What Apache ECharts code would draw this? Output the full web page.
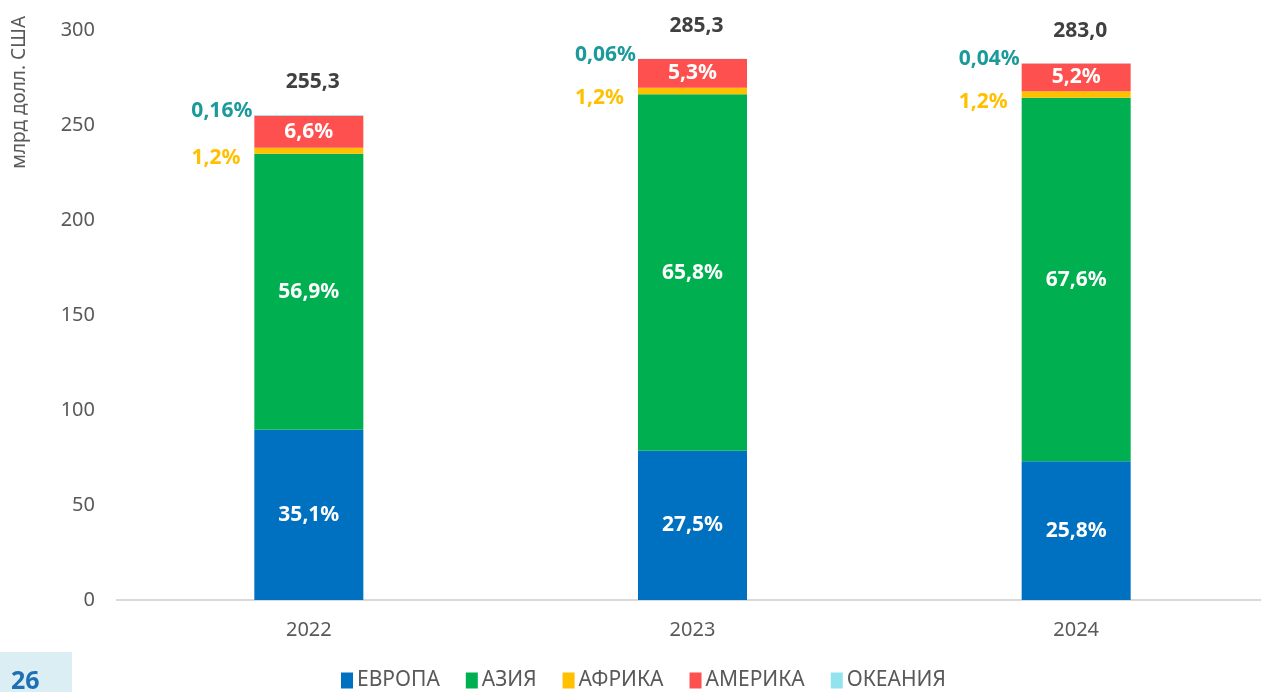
<!DOCTYPE html>
<html>
<head>
<meta charset="utf-8">
<script src="https://cdn.jsdelivr.net/npm/echarts@6/dist/echarts.min.js"></script>
<style>
  html, body { margin: 0; padding: 0; background: #fff; overflow: hidden; }
  #chart { width: 1268px; height: 692px; }
</style>
</head>
<body>
<div id="chart"></div>
<script>
// годы
var years = ['2022', '2023', '2024'];
// значения, млрд долл. США
var europe  = [89.6, 78.5, 73.0];
var asia    = [145.3, 187.7, 191.3];
var africa  = [3.1, 3.4, 3.4];
var america = [16.9, 15.1, 14.7];
var oceania = [0.4, 0.2, 0.1];
// подписи
var totals      = ['255,3', '285,3', '283,0'];
var pctEurope   = ['35,1%', '27,5%', '25,8%'];
var pctAsia     = ['56,9%', '65,8%', '67,6%'];
var pctAfrica   = ['1,2%', '1,2%', '1,2%'];
var pctAmerica  = ['6,6%', '5,3%', '5,2%'];
var pctOceania  = ['0,16%', '0,06%', '0,04%'];
var zeros       = [0, 0, 0];

var FONT = '"Noto Sans", sans-serif';

function innerLabel(arr) {
    return {
        show: true, position: 'inside', color: '#fff',
        fontFamily: FONT, fontWeight: 'bold', fontSize: 21,
        formatter: function (p) { return arr[p.dataIndex]; }
    };
}

var myChart = echarts.init(document.getElementById('chart'));

var option = {
    animation: false,
    textStyle: { fontFamily: FONT },
    grid: { left: 117, right: 0, top: 30, bottom: 92 },
    legend: {
        bottom: 1,
        left: 341,
        padding: 0,
        icon: 'rect',
        itemWidth: 12,
        itemHeight: 16,
        itemGap: 26,
        textStyle: { fontSize: 21, color: '#595959', fontFamily: FONT, padding: [0, 0, 0, -1] },
        data: ['ЕВРОПА', 'АЗИЯ', 'АФРИКА', 'АМЕРИКА', 'ОКЕАНИЯ']
    },
    xAxis: {
        type: 'category',
        data: years,
        axisLine: { lineStyle: { color: '#D9D9D9', width: 2 } },
        axisTick: { show: false },
        axisLabel: { fontSize: 20, color: '#595959', margin: 20 }
    },
    yAxis: {
        type: 'value',
        min: 0, max: 300, interval: 50,
        splitLine: { show: false },
        axisLine: { show: false },
        axisLabel: { fontSize: 20, color: '#595959', margin: 22 }
    },
    graphic: [
        {
            type: 'text', x: 10, y: 16, rotation: Math.PI / 2,
            style: {
                text: 'млрд долл. США', fontSize: 19, fill: '#595959',
                fontFamily: FONT, textAlign: 'right', textVerticalAlign: 'top'
            }
        },
        { type: 'rect', shape: { x: 0, y: 652, width: 72, height: 40 }, style: { fill: '#DAEEF3' } },
        {
            type: 'text', x: 11, y: 669,
            style: {
                text: '26', fontSize: 25, fontWeight: 'bold', fill: '#1F6FB5',
                fontFamily: FONT, textVerticalAlign: 'top'
            }
        }
    ],
    series: [
        {
            name: 'ЕВРОПА', type: 'bar', stack: 's', barWidth: 109,
            itemStyle: { color: '#0070C0' },
            label: innerLabel(pctEurope),
            data: europe
        },
        {
            name: 'АЗИЯ', type: 'bar', stack: 's',
            itemStyle: { color: '#00B050' },
            label: innerLabel(pctAsia),
            data: asia
        },
        {
            name: 'АФРИКА', type: 'bar', stack: 's',
            itemStyle: { color: '#FFC000' },
            label: {
                show: true, position: 'left', distance: 14, offset: [0, 7],
                color: '#FFC000', fontWeight: 'bold', fontSize: 21,
                formatter: function (p) { return pctAfrica[p.dataIndex]; }
            },
            data: africa
        },
        {
            name: 'АМЕРИКА', type: 'bar', stack: 's',
            itemStyle: { color: '#FF5050' },
            label: innerLabel(pctAmerica),
            data: america
        },
        {
            name: 'ОКЕАНИЯ', type: 'bar', stack: 's',
            itemStyle: { color: '#92E3EF' },
            label: {
                show: true, position: 'left', distance: 2, offset: [0, -4],
                color: '#1A9A9A', fontWeight: 'bold', fontSize: 21,
                formatter: function (p) { return pctOceania[p.dataIndex]; }
            },
            data: oceania
        },
        {
            name: 'total', type: 'bar', stack: 's',
            itemStyle: { color: 'transparent' },
            label: {
                show: true, position: 'top', distance: 22, offset: [4, 0],
                color: '#404040', fontWeight: 'bold', fontSize: 21,
                formatter: function (p) { return totals[p.dataIndex]; }
            },
            data: zeros
        }
    ]
};

myChart.setOption(option);
</script>
</body>
</html>
